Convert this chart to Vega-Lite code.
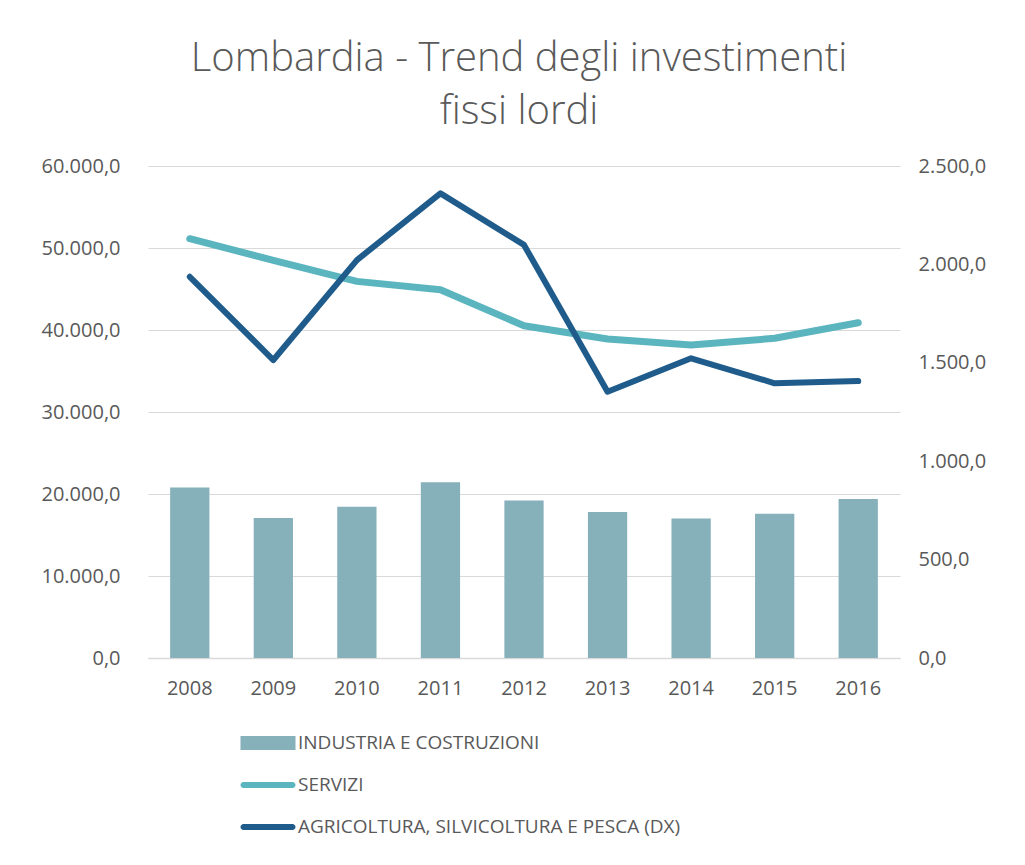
{
  "$schema": "https://vega.github.io/schema/vega-lite/v6.json",
  "width": 752,
  "height": 492,
  "autosize": {"type": "none"},
  "padding": {"left": 148, "top": 166, "right": 125, "bottom": 207},
  "background": "#ffffff",
  "config": {
    "locale": {"number": {"decimal": ",", "thousands": ".", "grouping": [3], "currency": ["€", ""]}},
    "view": {"stroke": null},
    "font": "Open Sans"
  },
  "title": {
    "text": ["Lombardia - Trend degli investimenti", "fissi lordi"],
    "fontSize": 40,
    "font": "Open Sans",
    "fontWeight": 300,
    "color": "#595959",
    "anchor": "middle",
    "frame": "group",
    "offset": 24,
    "lineHeight": 53,
    "dx": -5
  },
  "data": {
    "values": [
      {"anno": "2008", "industria": 20800, "servizi": 51130, "agricoltura": 1937},
      {"anno": "2009", "industria": 17070, "servizi": 48500, "agricoltura": 1514},
      {"anno": "2010", "industria": 18450, "servizi": 45930, "agricoltura": 2022},
      {"anno": "2011", "industria": 21420, "servizi": 44900, "agricoltura": 2361},
      {"anno": "2012", "industria": 19200, "servizi": 40520, "agricoltura": 2099},
      {"anno": "2013", "industria": 17800, "servizi": 38900, "agricoltura": 1353},
      {"anno": "2014", "industria": 17000, "servizi": 38170, "agricoltura": 1523},
      {"anno": "2015", "industria": 17600, "servizi": 38990, "agricoltura": 1396},
      {"anno": "2016", "industria": 19400, "servizi": 40890, "agricoltura": 1407}
    ]
  },
  "encoding": {
    "x": {
      "field": "anno",
      "type": "ordinal",
      "scale": {"paddingInner": 0.53, "paddingOuter": 0.265},
      "axis": {
        "title": null,
        "labelAngle": 0,
        "domain": true,
        "domainColor": "#d9d9d9",
        "domainWidth": 1.5,
        "ticks": false,
        "labelFontSize": 20,
        "labelColor": "#595959",
        "labelPadding": 20
      }
    }
  },
  "layer": [
    {
      "mark": {"type": "bar"},
      "encoding": {
        "y": {
          "field": "industria",
          "type": "quantitative",
          "scale": {"domain": [0, 60000]},
          "axis": {
            "title": null,
            "values": [0, 10000, 20000, 30000, 40000, 50000, 60000],
            "format": ",.1f",
            "domain": false,
            "ticks": false,
            "grid": true,
            "gridColor": "#d9d9d9",
            "gridWidth": 1,
            "labelFontSize": 20,
            "labelColor": "#595959",
            "labelPadding": 28
          }
        },
        "color": {
          "datum": "INDUSTRIA E COSTRUZIONI",
          "type": "nominal",
          "scale": {
            "domain": ["INDUSTRIA E COSTRUZIONI", "SERVIZI", "AGRICOLTURA, SILVICOLTURA E PESCA (DX)"],
            "range": ["#86b0ba", "#5bb5be", "#1f5c8c"]
          },
          "legend": {
            "orient": "none",
            "legendX": 110,
            "legendY": 567,
            "title": null,
            "direction": "vertical",
            "padding": 0,
            "symbolSize": 400,
            "labelFontSize": 19,
            "labelColor": "#595959",
            "labelLimit": 0,
            "labelOffset": 20,
            "rowPadding": 22,
            "encode": {
              "symbols": {
                "update": {
                  "shape": {"signal": "datum.value === 'INDUSTRIA E COSTRUZIONI' ? 'M-2.75,-0.7H2.75V0.7H-2.75Z' : 'M-2.45,-0.3H2.45A0.3,0.3 0 0 1 2.45,0.3H-2.45A0.3,0.3 0 0 1 -2.45,-0.3Z'"},
                  "fill": {"signal": "scale('color', datum.value)"},
                  "fillOpacity": {"value": 1},
                  "opacity": {"value": 1},
                  "strokeWidth": {"value": 0}
                }
              }
            }
          }
        }
      }
    },
    {
      "mark": {"type": "line", "strokeWidth": 7, "strokeCap": "round", "strokeJoin": "round"},
      "encoding": {
        "y": {"field": "servizi", "type": "quantitative", "scale": {"domain": [0, 60000]}, "axis": null},
        "color": {"datum": "SERVIZI", "type": "nominal"}
      }
    },
    {
      "mark": {"type": "line", "strokeWidth": 6, "strokeCap": "round", "strokeJoin": "round"},
      "encoding": {
        "y": {
          "field": "agricoltura",
          "type": "quantitative",
          "scale": {"domain": [0, 2500]},
          "axis": {
            "orient": "right",
            "title": null,
            "values": [0, 500, 1000, 1500, 2000, 2500],
            "format": ",.1f",
            "domain": false,
            "ticks": false,
            "grid": false,
            "labelFontSize": 20,
            "labelColor": "#595959",
            "labelPadding": 18
          }
        },
        "color": {"datum": "AGRICOLTURA, SILVICOLTURA E PESCA (DX)", "type": "nominal"}
      }
    }
  ],
  "resolve": {"scale": {"y": "independent"}}
}
